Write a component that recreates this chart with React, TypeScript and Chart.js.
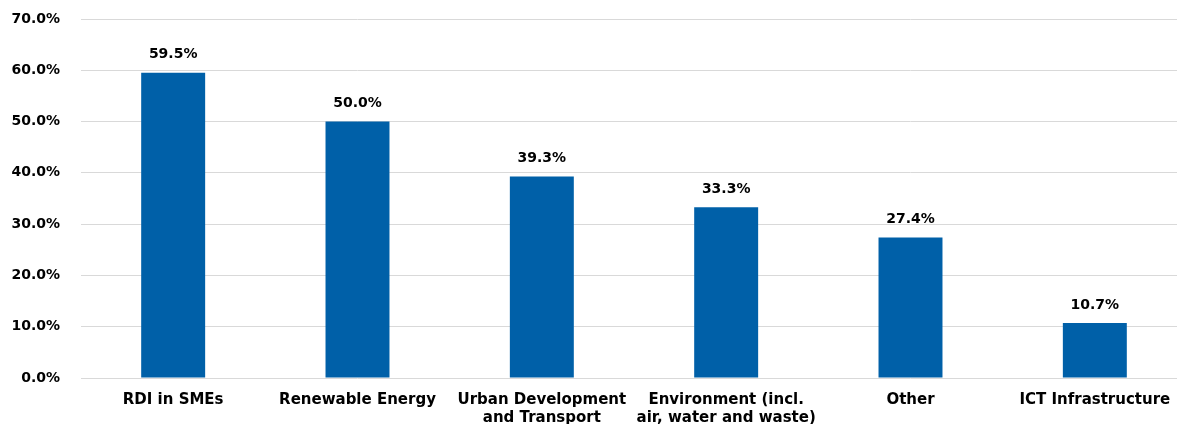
import React, { useEffect, useRef } from "react";
import { Chart, registerables } from "chart.js";

Chart.register(...registerables);

const categories: (string | string[])[] = [
  "RDI in SMEs",
  "Renewable Energy",
  ["Urban Development", "and Transport"],
  ["Environment (incl.", "air, water and waste)"],
  "Other",
  "ICT Infrastructure",
];
const values: number[] = [59.5, 50.0, 39.3, 33.3, 27.4, 10.7];
const yTicks: number[] = [0, 10, 20, 30, 40, 50, 60, 70];

const FONT = "'DejaVu Sans', Verdana, sans-serif";

const valueLabels = {
  id: "valueLabels",
  afterDatasetsDraw(chart: any) {
    const ctx = chart.ctx;
    const meta = chart.getDatasetMeta(0);
    ctx.save();
    ctx.font = `bold 14px ${FONT}`;
    ctx.fillStyle = "#000";
    ctx.textAlign = "center";
    ctx.textBaseline = "bottom";
    meta.data.forEach((el: any, i: number) => {
      ctx.fillText(values[i].toFixed(1) + "%", el.x, el.y - 11);
    });
    ctx.restore();
  },
};

export default function App() {
  const ref = useRef<HTMLCanvasElement>(null);
  useEffect(() => {
    if (!ref.current) return;
    const chart = new Chart(ref.current, {
      type: "bar",
      data: {
        labels: categories,
        datasets: [
          {
            data: values,
            backgroundColor: "#0060A8",
            categoryPercentage: 1,
            barPercentage: 0.347,
          },
        ],
      },
      options: {
        responsive: false,
        animation: false,
        layout: { padding: { top: 19, left: 0, right: 0, bottom: 0 } },
        plugins: { legend: { display: false }, tooltip: { enabled: false } },
        scales: {
          x: {
            grid: { display: false, drawTicks: false },
            border: { display: false },
            ticks: {
              color: "#000",
              font: { family: FONT, size: 15, weight: "bold", lineHeight: 1.2 },
              padding: 13,
              maxRotation: 0,
              autoSkip: false,
            },
            afterFit(scale: any) {
              scale.height = 62;
            },
          },
          y: {
            min: 0,
            max: 70,
            afterBuildTicks(scale: any) {
              scale.ticks = yTicks.map((v) => ({ value: v }));
            },
            grid: {
              color: "#d9d9d9",
              lineWidth: 1,
              drawTicks: true,
              tickLength: 21,
              tickColor: "rgba(0,0,0,0)",
            },
            border: { display: false },
            ticks: {
              color: "#000",
              font: { family: FONT, size: 14, weight: "bold" },
              padding: 0,
              callback: (v: any) => Number(v).toFixed(1) + "%",
            },
            afterFit(scale: any) {
              scale.width = 81;
            },
          },
        },
      },
      plugins: [valueLabels],
    });
    return () => chart.destroy();
  }, []);
  return (
    <div
      style={{
        position: "fixed",
        left: 0,
        top: 0,
        width: 1177,
        height: 424,
        overflow: "hidden",
        background: "#fff",
      }}
    >
      <canvas ref={ref} width={1187} height={440} style={{ display: "block" }} />
    </div>
  );
}
